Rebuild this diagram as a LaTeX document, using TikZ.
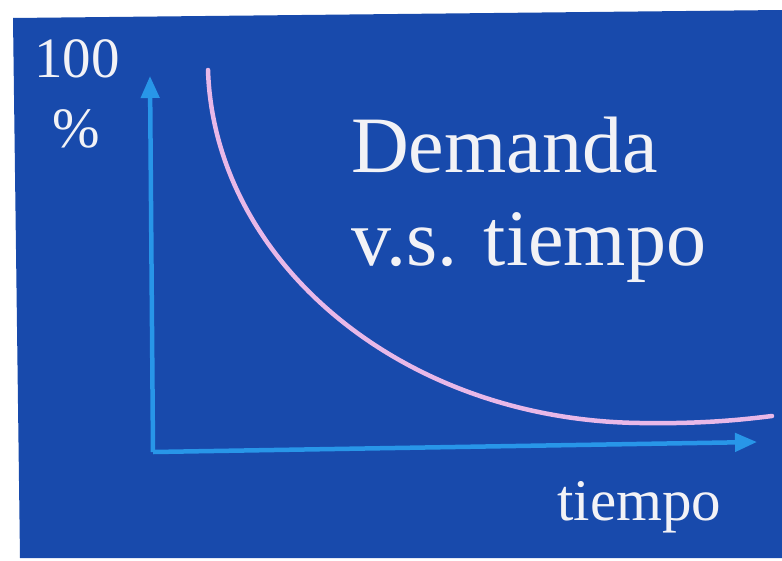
\documentclass[tikz,border=0pt]{standalone}
\usepackage{fontspec}
\setmainfont{Liberation Serif}
\usetikzlibrary{arrows.meta}
\definecolor{bgblue}{RGB}{24,74,172}
\definecolor{axisblue}{RGB}{40,150,232}
\definecolor{curvepink}{RGB}{232,184,232}
\definecolor{txtwhite}{RGB}{242,242,246}
\tikzset{
  axisline/.style={draw=axisblue,line width=4.5pt,-{Triangle[length=22pt,width=18pt]}},
  curveline/.style={draw=curvepink,line width=4.5pt,line cap=round},
  lbl/.style={text=txtwhite,inner sep=0pt,anchor=base west},
}
\begin{document}
\begin{tikzpicture}[x=1pt,y=-1pt]
\useasboundingbox (0,0) rectangle (782,560);
\fill[white] (0,0) rectangle (782,560);
\fill[bgblue] (13,18) -- (782,10) -- (782,558) -- (20,558) -- cycle;
\coordinate (o) at (153,452);
\coordinate (ytip) at (150,76);
\coordinate (xtip) at (757,442);
\draw[axisline] (o) -- (ytip);
\draw[axisline] (o) -- (xtip);
\coordinate (c0) at (208,70);
\coordinate (c1) at (772,416);
\draw[curveline] (c0) .. controls (214,260) and (400,420) .. (640,423) .. controls (700,424) and (740,420) .. (c1);
\node[lbl,font=\fontsize{57}{57}\selectfont] (hundred) at (34,77) {100};
\node[lbl,font=\fontsize{57}{57}\selectfont] (pct) at (52,147) {\%};
\node[lbl,font=\fontsize{80}{80}\selectfont] (title1) at (351,172) {Demanda};
\node[lbl,font=\fontsize{80}{80}\selectfont] (title2) at (351,265) {v.s. tiempo};
\node[lbl,font=\fontsize{59}{59}\selectfont] (xlabel) at (557,520) {tiempo};
\end{tikzpicture}
\end{document}
